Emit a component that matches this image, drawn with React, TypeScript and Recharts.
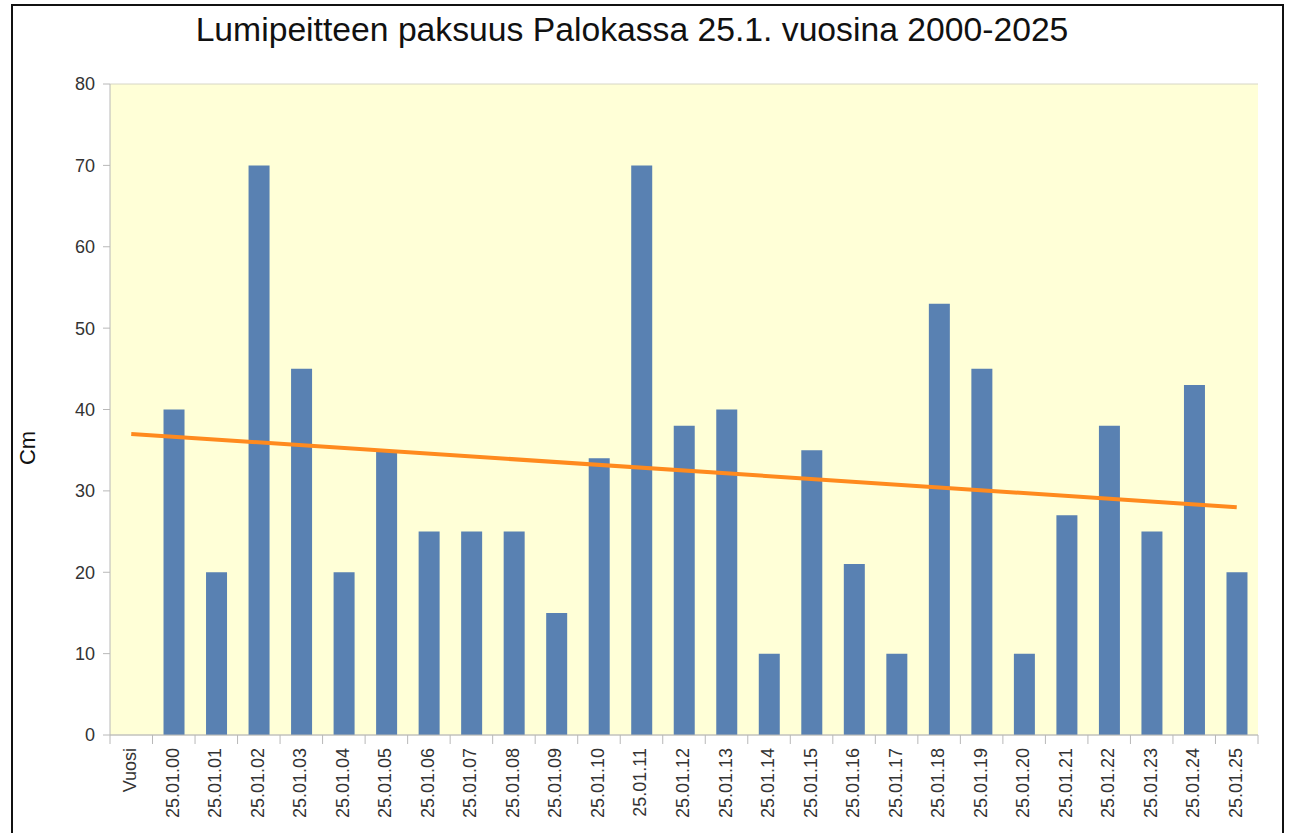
import React from 'react';
import { ComposedChart, Bar, Line, XAxis, YAxis, CartesianGrid } from 'recharts';

const categories = ['Vuosi', '25.01.00', '25.01.01', '25.01.02', '25.01.03', '25.01.04', '25.01.05', '25.01.06', '25.01.07', '25.01.08', '25.01.09', '25.01.10', '25.01.11', '25.01.12', '25.01.13', '25.01.14', '25.01.15', '25.01.16', '25.01.17', '25.01.18', '25.01.19', '25.01.20', '25.01.21', '25.01.22', '25.01.23', '25.01.24', '25.01.25'];
const snowDepth: (number | null)[] = [null, 40, 20, 70, 45, 20, 35, 25, 25, 25, 15, 34, 70, 38, 40, 10, 35, 21, 10, 53, 45, 10, 27, 38, 25, 43, 20];
const trendLine: (number | null)[] = [37, null, null, null, null, null, null, null, null, null, null, null, null, null, null, null, null, null, null, null, null, null, null, null, null, null, 28];
const yTicks = [0, 10, 20, 30, 40, 50, 60, 70, 80];

const data = categories.map((c, i) => ({ cat: c, cm: snowDepth[i], trend: trendLine[i] }));

const CHART_W = 1269;
const CHART_H = 827;
const MARGIN = { top: 78, right: 24, bottom: 8, left: 37 };
const Y_W = 60;
const PLOT_W = CHART_W - MARGIN.left - MARGIN.right - Y_W;
const STEP = PLOT_W / categories.length;
const FONT = '"Liberation Sans", Arial, sans-serif';

const XTick = (props: any) => {
  const { x, y, payload, index } = props;
  const last = index === categories.length - 1;
  return (
    <g>
      <line x1={x - STEP / 2} y1={y} x2={x - STEP / 2} y2={y + 9} stroke="#b8b8b8" strokeWidth={1} />
      {last && <line x1={x + STEP / 2} y1={y} x2={x + STEP / 2} y2={y + 9} stroke="#b8b8b8" strokeWidth={1} />}
      <text
        x={0}
        y={0}
        transform={`translate(${x - 1},${y + 13}) rotate(-90)`}
        textAnchor="end"
        dominantBaseline="central"
        fontSize={18}
        fontFamily={FONT}
        fill="#333"
      >
        {payload.value}
      </text>
    </g>
  );
};

export default function App() {
  return (
    <div
      style={{
        position: 'absolute',
        left: 11,
        top: 4,
        width: 1273,
        height: 829,
        border: '2px solid #111',
        borderBottom: 'none',
        boxSizing: 'border-box',
        background: '#fff',
        overflow: 'hidden',
      }}
    >
      <div
        style={{
          position: 'absolute',
          left: 119,
          top: 6,
          width: 1000,
          textAlign: 'center',
          fontFamily: FONT,
          fontSize: 33.7,
          lineHeight: '34px',
          color: '#111',
          zIndex: 2,
        }}
      >
        Lumipeitteen paksuus Palokassa 25.1. vuosina 2000-2025
      </div>
      <ComposedChart width={CHART_W} height={CHART_H} data={data} margin={MARGIN}>
        <CartesianGrid vertical={false} stroke="#d6d6c6" fill="#ffffd7" fillOpacity={1} />
        <XAxis
          dataKey="cat"
          interval={0}
          height={90}
          tickSize={0}
          tickMargin={0}
          tickLine={false}
          tick={<XTick />}
          axisLine={{ stroke: '#b8b8b8' }}
        />
        <YAxis
          yAxisId="l"
          domain={[0, 80]}
          ticks={yTicks}
          width={Y_W}
          tickSize={7}
          tickMargin={8}
          tickLine={{ stroke: '#b8b8b8' }}
          axisLine={{ stroke: '#b8b8b8' }}
          tick={{ fontSize: 18, fontFamily: FONT, fill: '#333' }}
          label={{
            content: (p: any) => {
              const vb = p.viewBox || {};
              return (
                <text
                  x={0}
                  y={0}
                  transform={`translate(${(vb.x ?? 37) - 23},442) rotate(-90)`}
                  textAnchor="middle"
                  dominantBaseline="central"
                  fontSize={22}
                  fontFamily={FONT}
                  fill="#111"
                >
                  Cm
                </text>
              );
            },
          }}
        />
        <YAxis yAxisId="r" orientation="right" width={0} domain={[0, 80]} tick={false} tickLine={false} axisLine={{ stroke: '#d0d0d0', strokeWidth: 2 }} />
        <Bar yAxisId="l" dataKey="cm" fill="#5981b2" barSize={21} isAnimationActive={false} />
        <Line
          yAxisId="l"
          dataKey="trend"
          stroke="#ff8a1e"
          strokeWidth={4}
          dot={false}
          activeDot={false}
          connectNulls
          isAnimationActive={false}
        />
      </ComposedChart>
    </div>
  );
}
